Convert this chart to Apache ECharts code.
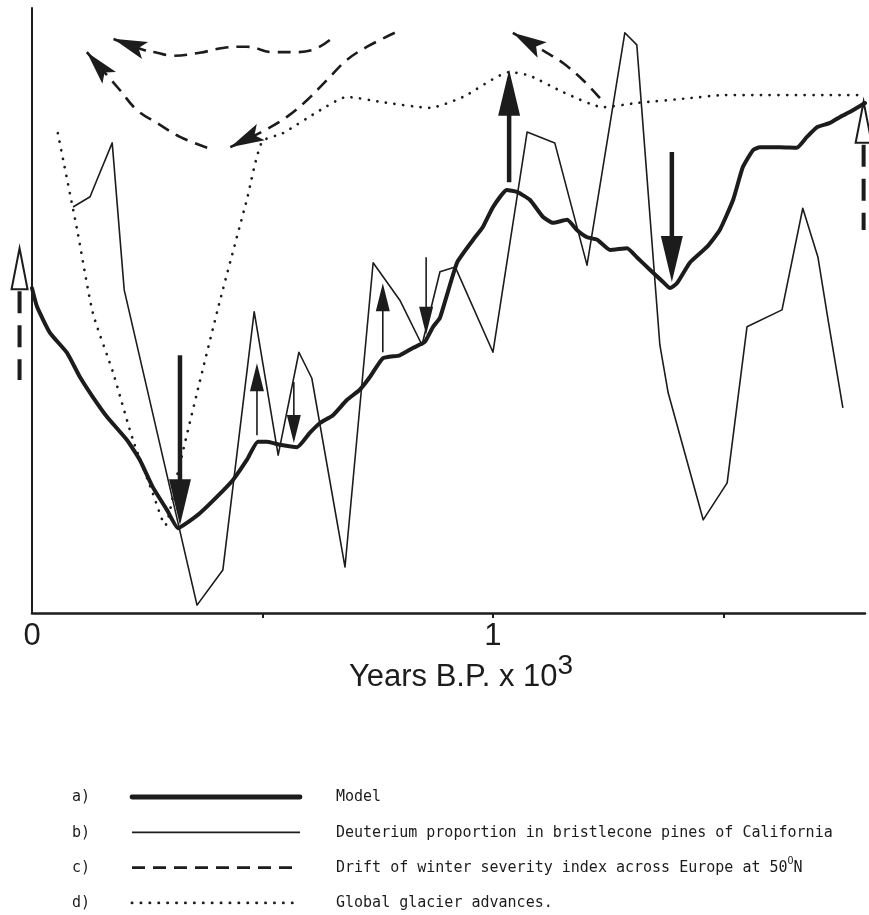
<!DOCTYPE html>
<html><head><meta charset="utf-8">
<script src="https://cdn.jsdelivr.net/npm/echarts@6/dist/echarts.min.js"></script>
<style>html,body{margin:0;padding:0;background:#fff}#c{width:869px;height:915px}</style>
</head><body><div id="c"></div>
<script>
// x: thousands of years B.P.; y: relative index (0-100)
const xTickValues = [0, 1];
const xTickLabels = ['0', '1'];
const xTickMarks = [0.5, 1, 1.5];

const modelPoints = [[0,53.7],[0.011,50.6],[0.039,46.3],[0.076,43.0],[0.104,39.0],[0.132,35.7],[0.163,32.4],[0.206,28.6],[0.234,25.3],[0.262,20.8],[0.293,17.0],[0.317,14.0],[0.336,14.9],[0.364,16.5],[0.401,19.2],[0.436,22.0],[0.466,25.3],[0.490,28.3],[0.510,28.3],[0.538,27.8],[0.575,27.4],[0.603,29.8],[0.625,31.4],[0.653,32.7],[0.683,35.2],[0.711,36.9],[0.733,39.0],[0.761,42.1],[0.798,42.6],[0.826,43.8],[0.852,44.8],[0.870,47.3],[0.885,48.8],[0.922,57.9],[0.957,61.7],[0.978,63.8],[1.000,67.1],[1.030,69.9],[1.052,69.6],[1.080,68.3],[1.108,65.5],[1.130,64.5],[1.161,65.0],[1.182,63.3],[1.204,62.1],[1.226,61.7],[1.254,60.0],[1.291,60.3],[1.312,58.8],[1.341,56.7],[1.369,54.7],[1.384,53.7],[1.399,54.5],[1.427,57.9],[1.464,60.5],[1.492,63.3],[1.521,68.3],[1.542,73.7],[1.564,76.5],[1.579,77.0],[1.623,77.0],[1.659,76.9],[1.681,78.7],[1.703,80.3],[1.731,81.0],[1.753,82.0],[1.774,82.8],[1.807,84.3]];

const deuteriumPoints = [[0.089,67.1],[0.126,68.8],[0.141,71.6],[0.174,77.7],[0.200,53.4],[0.358,1.3],[0.414,7.1],[0.482,49.8],[0.534,26.1],[0.579,43.1],[0.607,38.8],[0.679,7.6],[0.740,57.9],[0.798,51.7],[0.846,44.3],[0.885,56.4],[0.918,57.2],[1.000,43.1],[1.074,79.5],[1.134,77.7],[1.204,57.5],[1.286,95.9],[1.312,93.9],[1.362,44.3],[1.380,36.4],[1.456,15.4],[1.508,21.5],[1.551,47.3],[1.627,50.1],[1.672,66.9],[1.705,58.8],[1.727,48.4],[1.759,33.9]];

const glacierPoints = [[0.056,79.3],[0.098,63.3],[0.132,49.6],[0.176,39.7],[0.219,28.6],[0.262,19.8],[0.289,14.5],[0.315,22.8],[0.358,36.4],[0.408,51.7],[0.466,68.3],[0.499,77.9],[0.544,79.3],[0.625,83.1],[0.683,85.3],[0.755,84.5],[0.863,83.5],[0.935,85.3],[1.037,89.4],[1.080,88.8],[1.152,86.1],[1.239,83.6],[1.312,84.3],[1.427,85.1],[1.499,85.6],[1.807,85.6]];

// winter severity drift paths (each ends at its arrow tip)
const driftCurveA = [[0.787,95.9],[0.727,93.6],[0.683,91.4],[0.640,88.1],[0.597,84.8],[0.553,82.0],[0.505,79.8],[0.430,77.0]];
const driftCurveB = [[0.380,76.9],[0.321,78.7],[0.271,81.0],[0.228,83.1],[0.191,86.4],[0.119,92.7]];
const driftCurveC = [[0.646,94.7],[0.610,93.1],[0.566,92.7],[0.523,92.7],[0.466,93.6],[0.414,93.4],[0.364,92.6],[0.306,92.1],[0.271,92.6],[0.241,93.1],[0.176,94.9]];
const driftCurveD = [[1.232,85.1],[1.195,88.1],[1.152,90.9],[1.117,92.6],[1.043,95.9]];

// vertical arrows on the model curve: [x, from, to, thick(1)/thin(0)]
const modelArrows = [[0.321,42.6,14.5,1],[0.488,29.4,41.3,0],[0.568,38.2,28.1,0],[0.761,43.1,54.5,0],[0.855,58.8,46.0,0],[1.035,71.2,89.8,1],[1.388,76.2,54.7,1]];
// open arrows at the edges: [x, tip, tail]
const edgeArrows = [[-0.027,60.3,38.5],[1.804,84.5,63.3]];

const legendKeys = ['a)', 'b)', 'c)', 'd)'];
const legendLabels = ['Model', 'Deuterium proportion in bristlecone pines of California', 'Drift of winter severity index across Europe at 50', 'Global glacier advances.'];

const INK = '#1c1c1c';
const styles = [
  {width: 4.0, dash: null, cap: 'round'},
  {width: 1.6, dash: null, cap: 'butt'},
  {width: 2.6, dash: [13, 8], cap: 'butt'},
  {width: 2.7, dash: [0.1, 8.6], cap: 'round'}
];
const lineStyleOf = i => ({color: INK, width: styles[i].width, type: styles[i].dash || 'solid', cap: styles[i].cap, join: 'round'});

function renderModelArrow(params, api) {
  const x = api.value(0), thick = api.value(3) === 1;
  const p0 = api.coord([x, api.value(1)]), p1 = api.coord([x, api.value(2)]);
  const dir = p1[1] > p0[1] ? 1 : -1;
  const L = thick ? 46 : 28, W = thick ? 11 : 7;
  const baseY = p1[1] - dir * L;
  return {type: 'group', children: [
    {type: 'line', shape: {x1: p0[0], y1: p0[1], x2: p0[0], y2: baseY + dir * 3}, style: {stroke: INK, lineWidth: thick ? 4.5 : 1.6}},
    {type: 'polygon', shape: {points: [[p1[0] - W, baseY], [p1[0] + W, baseY], [p1[0], p1[1]]]}, style: {fill: INK}}
  ]};
}
function renderDriftHead(params, api) {
  const tip = api.coord([api.value(0), api.value(1)]);
  const prev = api.coord([api.value(2), api.value(3)]);
  let dx = tip[0] - prev[0], dy = tip[1] - prev[1];
  const len = Math.hypot(dx, dy); dx /= len; dy /= len;
  const L = 34, W = 9, N = 7;
  const bx = tip[0] - dx * L, by = tip[1] - dy * L, nx = -dy, ny = dx;
  return {type: 'polygon', shape: {points: [tip, [bx + nx * W, by + ny * W], [tip[0] - dx * (L - N), tip[1] - dy * (L - N)], [bx - nx * W, by - ny * W]]}, style: {fill: INK}};
}
function renderEdgeArrow(params, api) {
  const x = api.value(0);
  const tip = api.coord([x, api.value(1)]), tail = api.coord([x, api.value(2)]);
  const L = 41, W = 8, baseY = tip[1] + L;
  return {type: 'group', children: [
    {type: 'line', shape: {x1: tip[0], y1: baseY + 2, x2: tail[0], y2: tail[1]}, style: {stroke: INK, lineWidth: 4, lineDash: [22, 12]}},
    {type: 'polygon', shape: {points: [[tip[0], tip[1]], [tip[0] + W, baseY], [tip[0] - W, baseY]]}, style: {fill: '#fff', stroke: INK, lineWidth: 2}}
  ]};
}

const driftCurves = [driftCurveA, driftCurveB, driftCurveC, driftCurveD];
const driftHeads = driftCurves.map(c => [c[c.length - 1][0], c[c.length - 1][1], c[c.length - 2][0], c[c.length - 2][1]]);

const series = [
  {name: legendLabels[3], type: 'line', data: glacierPoints, symbol: 'none', smooth: 0.2, lineStyle: lineStyleOf(3), z: 2},
  {name: legendLabels[1], type: 'line', data: deuteriumPoints, symbol: 'none', lineStyle: lineStyleOf(1), z: 3},
  {name: legendLabels[0], type: 'line', data: modelPoints, symbol: 'none', smooth: 0.15, lineStyle: lineStyleOf(0), z: 4}
];
driftCurves.forEach(c => series.push({name: legendLabels[2], type: 'line', data: c, symbol: 'none', smooth: 0.4, lineStyle: lineStyleOf(2), z: 3}));
series.push({type: 'custom', data: driftHeads, renderItem: renderDriftHead, z: 5, clip: false, encode: {x: 0, y: 1}});
series.push({type: 'custom', data: modelArrows, renderItem: renderModelArrow, z: 6, clip: false, encode: {x: 0, y: [1, 2]}});
series.push({type: 'custom', data: edgeArrows, renderItem: renderEdgeArrow, z: 6, clip: false, encode: {x: 0, y: [1, 2]}});

const legendRich = {
  t: {font: '15px "DejaVu Sans Mono"', fill: INK, verticalAlign: 'bottom', lineHeight: 20},
  s: {font: '10px "DejaVu Sans Mono"', fill: INK, verticalAlign: 'bottom', lineHeight: 11, padding: [0, 0, 9, 0]}
};
const graphic = [];
const legendTop = 797, legendStep = 35.3;
legendKeys.forEach((k, i) => {
  const y = legendTop + i * legendStep;
  const s = styles[i];
  graphic.push({type: 'text', x: 72, y: y - 2, style: {text: '{t|' + k + '}', verticalAlign: 'middle', rich: legendRich}});
  graphic.push({type: 'line', shape: {x1: 132, y1: y, x2: 300, y2: y}, style: {stroke: INK, lineWidth: s.width + (i === 0 ? 0.8 : 0.2), lineDash: s.dash ? (i === 3 ? [0.1, 8.8] : [13, 8]) : null, lineCap: s.cap}});
  const txt = i === 2 ? '{t|' + legendLabels[i] + '}{s|O}{t|N}' : '{t|' + legendLabels[i] + '}';
  graphic.push({type: 'text', x: 336, y: y - 2, style: {text: txt, verticalAlign: 'middle', rich: legendRich}});
});

const chart = echarts.init(document.getElementById('c'), null, {renderer: 'canvas'});
chart.setOption({
  backgroundColor: '#ffffff',
  animation: false,
  grid: {left: 32, right: 4, top: 8, bottom: 302, containLabel: false},
  xAxis: {
    type: 'value', min: 0, max: 1.807, interval: 0.5,
    axisLine: {lineStyle: {color: INK, width: 2.5}},
    axisTick: {show: true, customValues: xTickMarks, length: 5, lineStyle: {color: INK, width: 2}},
    axisLabel: {customValues: xTickValues, formatter: v => xTickLabels[xTickValues.indexOf(v)], fontSize: 31, fontFamily: 'Liberation Sans', color: INK, margin: 8},
    splitLine: {show: false},
    name: '{t|Years B.P. x 10}{s|3}', nameLocation: 'middle', nameGap: 39, nameMoveOverlap: false,
    nameTextStyle: {padding: [0, 0, 0, 25], rich: {
      t: {fontSize: 31, fontFamily: 'Liberation Sans', color: INK, verticalAlign: 'bottom'},
      s: {fontSize: 28, fontFamily: 'Liberation Sans', color: INK, verticalAlign: 'bottom', padding: [0, 0, 13, 0]}
    }}
  },
  yAxis: {
    type: 'value', min: 0, max: 100,
    axisLine: {show: true, lineStyle: {color: INK, width: 2}},
    axisTick: {show: false}, axisLabel: {show: false}, splitLine: {show: false}
  },
  series: series,
  graphic: graphic
});
</script></body></html>
